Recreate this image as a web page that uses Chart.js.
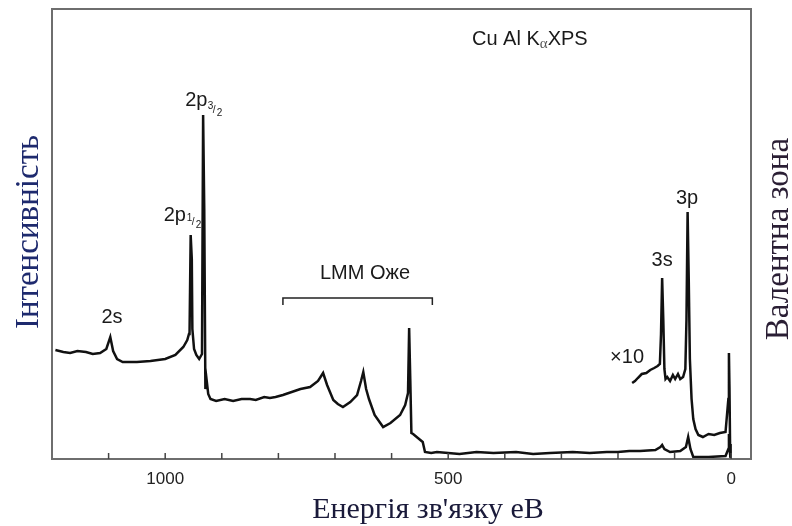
<!DOCTYPE html>
<html>
<head>
<meta charset="utf-8">
<script src="https://cdn.jsdelivr.net/npm/chart.js@4/dist/chart.umd.min.js"></script>
<style>
  html, body { margin: 0; padding: 0; background: #fff; }
</style>
</head>
<body>
<canvas id="xpsChart" width="792" height="526"></canvas>
<script>
// binding energy (eV) and intensity (arb. units) of the full survey
const mainEnergy = [1194, 1180, 1168, 1155, 1140, 1128, 1115, 1104, 1097, 1092, 1085, 1075, 1050, 1026, 1000, 982,
  968, 961, 958, 957, 955, 953, 952, 949, 945, 940, 935, 933, 931, 929, 927, 924, 920, 910, 895, 880, 865, 850,
  840, 825, 815, 805, 792, 761, 744, 730, 721, 714, 703, 695, 686, 673, 661, 654, 650, 645, 640, 630, 620, 615,
  602, 585, 576, 571, 569, 567, 565, 562, 545, 541, 530, 520, 480, 450, 420, 380, 350, 320, 280, 250, 220, 200,
  180, 161, 134, 125, 122, 118, 108, 90, 80, 76, 72, 67, 40, 10, 5, 4, 2, 1];
const mainCounts = [109, 107, 106, 108, 107, 105, 106, 110, 122, 108, 100, 97, 97, 98, 100, 104,
  112, 119, 125, 125, 224, 200, 130, 110, 104, 100, 105, 344, 250, 70, 80, 65, 60, 58, 60, 58, 60, 60,
  59, 62, 61, 62, 64, 70, 72, 78, 86, 74, 59, 55, 52, 57, 64, 78, 87, 70, 60, 44, 36, 32,
  36, 44, 54, 66, 131, 80, 26, 25, 17, 7, 6, 7, 5, 7, 6, 7, 5, 6, 7, 6, 7, 7,
  8, 8, 9, 12, 14, 10, 7, 8, 12, 22, 10, 2, 2, 3, 10, 25, 5, 0];

// x10 magnified trace: 3s, 3p and valence band
const x10Energy = [175, 170, 165, 158, 150, 143, 136, 130, 126, 124, 122, 120, 118, 116, 113, 108, 103, 99, 94,
  90, 85, 81, 79, 77, 75, 73, 70, 67, 63, 58, 50, 40, 30, 20, 10, 5, 4, 3, 2, 1];
const x10Counts = [76, 78, 81, 85, 86, 89, 91, 93, 95, 125, 181, 140, 90, 80, 82, 78, 84, 80, 85,
  80, 82, 90, 140, 247, 180, 100, 60, 40, 30, 24, 22, 25, 24, 26, 27, 60, 106, 70, 15, 2];

const tickLabels = [1000, 500, 0];

function toPoints(xs, ys) {
  return xs.map((e, i) => ({ x: e, y: ys[i] }));
}

const sans = "'Liberation Sans', Arial, sans-serif";
const serif = "'Liberation Serif', 'Times New Roman', serif";

// small fraction like 3/2 next to a label
function fraction(ctx, num, den, x, y) {
  ctx.font = "10px " + sans;
  ctx.textAlign = "left";
  ctx.fillText(num, x, y - 3);
  ctx.fillText("/", x + 5, y + 1);
  ctx.fillText(den, x + 9, y + 4);
  ctx.textAlign = "center";
}

// frame, inner tick marks and peak labels
const decorations = {
  id: "decorations",
  beforeDatasetsDraw(chart) {
    const ctx = chart.ctx;
    const x = chart.scales.x;
    const y = chart.scales.y;
    const px = (e) => x.getPixelForValue(e);
    const py = (v) => y.getPixelForValue(v);

    ctx.save();
    ctx.fillStyle = "#1a1a1a";
    ctx.textAlign = "center";
    ctx.textBaseline = "middle";
    ctx.font = "20px " + sans;
    ctx.fillText("2s", px(1094), py(142));
    ctx.fillText("2p", px(983), py(244));
    ctx.fillText("2p", px(945), py(359));
    ctx.fillText("LMM Оже", px(647), py(186));
    ctx.fillText("3s", px(122), py(199));
    ctx.fillText("3p", px(78), py(261));
    ctx.fillText("×10", px(184), py(102));
    fraction(ctx, "1", "2", px(962), py(238));
    fraction(ctx, "3", "2", px(925), py(350));

    // Cu Al Ka XPS
    ctx.textAlign = "left";
    ctx.font = "20px " + sans;
    let tx = px(458);
    const ty = py(420);
    ctx.fillText("Cu Al K", tx, ty);
    tx += ctx.measureText("Cu Al K").width;
    ctx.font = "15px " + serif;
    ctx.fillStyle = "#555";
    ctx.fillText("α", tx, ty + 5);
    tx += ctx.measureText("α").width;
    ctx.font = "20px " + sans;
    ctx.fillStyle = "#1a1a1a";
    ctx.fillText("XPS", tx, ty);

    // LMM bracket
    ctx.strokeStyle = "#222";
    ctx.lineWidth = 1.5;
    ctx.beginPath();
    ctx.moveTo(px(792), py(154));
    ctx.lineTo(px(792), py(161));
    ctx.lineTo(px(528), py(161));
    ctx.lineTo(px(528), py(154));
    ctx.stroke();
    ctx.restore();
  },
  afterDraw(chart) {
    const ctx = chart.ctx;
    const a = chart.chartArea;
    const x = chart.scales.x;
    ctx.save();
    ctx.strokeStyle = "#6e6e6e";
    ctx.lineWidth = 2;
    ctx.strokeRect(a.left, a.top, a.right - a.left, a.bottom - a.top);

    ctx.strokeStyle = "#444";
    ctx.lineWidth = 1.5;
    x.ticks.forEach((t) => {
      const p = x.getPixelForValue(t.value);
      if (p <= a.left + 2 || p >= a.right - 2) return;
      ctx.beginPath();
      ctx.moveTo(p, a.bottom);
      ctx.lineTo(p, a.bottom - 6);
      ctx.stroke();
    });

    // axis titles
    ctx.textAlign = "center";
    ctx.textBaseline = "alphabetic";
    ctx.font = "33px " + serif;
    ctx.fillStyle = "#1e2a6e";
    ctx.save();
    ctx.translate(38, 232);
    ctx.rotate(-Math.PI / 2);
    ctx.fillText("Інтенсивність", 0, 0);
    ctx.restore();

    ctx.fillStyle = "#2a1e34";
    ctx.save();
    ctx.translate(788, 239);
    ctx.rotate(-Math.PI / 2);
    ctx.fillText("Валентна зона", 0, 0);
    ctx.restore();

    ctx.font = "30px " + serif;
    ctx.fillStyle = "#1a1a3a";
    ctx.fillText("Енергія зв'язку еВ", 428, 518);
    ctx.restore();
  }
};

new Chart(document.getElementById("xpsChart"), {
  type: "line",
  data: {
    datasets: [
      {
        label: "survey",
        data: toPoints(mainEnergy, mainCounts),
        borderColor: "#111",
        borderWidth: 2.5,
        pointRadius: 0,
        tension: 0,
        fill: false
      },
      {
        label: "x10",
        data: toPoints(x10Energy, x10Counts),
        borderColor: "#111",
        borderWidth: 2.5,
        pointRadius: 0,
        tension: 0,
        fill: false
      }
    ]
  },
  options: {
    responsive: false,
    animation: false,
    devicePixelRatio: 1,
    layout: { padding: { left: 52, right: 41, top: 9, bottom: 0 } },
    plugins: {
      legend: { display: false },
      tooltip: { enabled: false }
    },
    scales: {
      x: {
        type: "linear",
        reverse: true,
        min: -35,
        max: 1200,
        grid: { display: false, drawTicks: false },
        border: { display: false },
        ticks: {
          stepSize: 100,
          includeBounds: false,
          autoSkip: false,
          maxRotation: 0,
          padding: 10,
          color: "#222",
          font: { family: "'Liberation Sans', Arial, sans-serif", size: 17 },
          callback: (v) => (tickLabels.includes(v) ? String(v) : "")
        },
        afterFit: (scale) => { scale.height = 67; }
      },
      y: {
        display: false,
        min: 0,
        max: 450
      }
    }
  },
  plugins: [decorations]
});
</script>
</body>
</html>
